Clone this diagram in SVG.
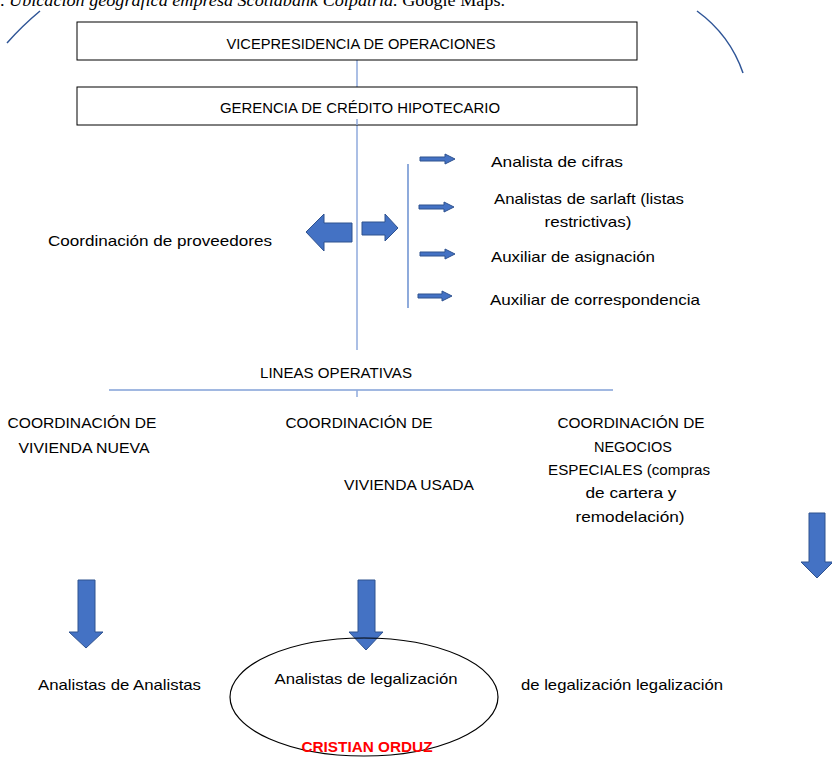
<svg xmlns="http://www.w3.org/2000/svg" width="832" height="757" viewBox="0 0 832 757">
<defs>
<style>
.t{font-family:"Liberation Sans",Arial,sans-serif;font-size:15px;fill:#000}
.c{text-anchor:middle}
.box{fill:#fff;stroke:#000;stroke-width:1}
.arr{fill:#4472C4;stroke:#2F528F;stroke-width:1}
.ln{stroke:#8FAADC;stroke-width:1.5;fill:none}
.ln2{stroke:#4472C4;stroke-width:1.2;fill:none}
.arc{stroke:#2F5597;stroke-width:1.5;fill:none}
</style>
</defs>
<rect width="832" height="757" fill="#fff"/>
<text x="0" y="6" font-family="'Liberation Serif',serif" font-size="17.5" textLength="505" lengthAdjust="spacingAndGlyphs">. <tspan font-style="italic">Ubicación geográfica empresa Scotiabank Colpatria.</tspan> Google Maps.</text>
<path class="arc" d="M40,11 Q22,26 7,43"/>
<path class="arc" d="M697,11 Q730,35 743,73"/>
<g id="connectors">
<line class="ln" x1="357" y1="60" x2="357" y2="87"/>
<line class="ln" x1="357" y1="119" x2="357" y2="350"/>
<line class="ln2" x1="109" y1="390" x2="613" y2="390"/>
<line class="ln" x1="357" y1="390" x2="357" y2="397"/>
<line class="ln2" x1="408" y1="164" x2="408" y2="308"/>
<path class="arr" d="M352,223 L324,223 L324,214 L306,232 L324,251 L324,242 L352,242 Z"/>
<path class="arr" d="M362,222 L385,222 L385,214 L398,228 L385,241 L385,235 L362,235 Z"/>
<path class="arr" d="M420,157 L445,157 L445,154 L455,159 L445,164 L445,161 L420,161 Z"/>
<path class="arr" d="M419,205 L444,205 L444,202 L454,207 L444,212 L444,209 L419,209 Z"/>
<path class="arr" d="M420,252 L445,252 L445,249 L455,254 L445,259 L445,256 L420,256 Z"/>
<path class="arr" d="M418,294 L442,294 L442,291 L452,296 L442,301 L442,298 L418,298 Z"/>
<path class="arr" d="M78,580 L95,580 L95,632 L103,632 L86,648 L69,632 L78,632 Z"/>
<path class="arr" d="M358,580 L375,580 L375,632 L383,632 L366,650 L349,632 L358,632 Z"/>
<path class="arr" d="M809,513 L825,513 L825,562 L833,562 L817,578 L801,562 L809,562 Z"/>
</g>
<g id="vicepresidencia">
<rect class="box" x="77" y="22" width="560" height="38"/>
<text class="t c" x="361" y="49" textLength="269" lengthAdjust="spacingAndGlyphs">VICEPRESIDENCIA DE OPERACIONES</text>
</g>
<g id="gerencia">
<rect class="box" x="77" y="87" width="560" height="38"/>
<text class="t c" x="360" y="113" textLength="280" lengthAdjust="spacingAndGlyphs">GERENCIA DE CRÉDITO HIPOTECARIO</text>
<line class="ln" x1="357" y1="119" x2="357" y2="125"/>
</g>
<g id="analista-cifras"><text class="t" x="491" y="167" textLength="132" lengthAdjust="spacingAndGlyphs">Analista de cifras</text></g>
<g id="analistas-sarlaft">
<text class="t c" x="589" y="204" textLength="190" lengthAdjust="spacingAndGlyphs">Analistas de sarlaft (listas</text>
<text class="t c" x="588" y="227" textLength="87" lengthAdjust="spacingAndGlyphs">restrictivas)</text>
</g>
<g id="auxiliar-asignacion"><text class="t" x="491" y="262" textLength="164" lengthAdjust="spacingAndGlyphs">Auxiliar de asignación</text></g>
<g id="auxiliar-correspondencia"><text class="t" x="490" y="305" textLength="210" lengthAdjust="spacingAndGlyphs">Auxiliar de correspondencia</text></g>
<g id="proveedores"><text class="t" x="48" y="246" textLength="224" lengthAdjust="spacingAndGlyphs">Coordinación de proveedores</text></g>
<g id="lineas"><text class="t" x="260" y="378" textLength="152" lengthAdjust="spacingAndGlyphs">LINEAS OPERATIVAS</text></g>
<g id="vivienda-nueva">
<text class="t c" x="82" y="428" textLength="149" lengthAdjust="spacingAndGlyphs">COORDINACIÓN DE</text>
<text class="t c" x="84" y="453" textLength="131" lengthAdjust="spacingAndGlyphs">VIVIENDA NUEVA</text>
</g>
<g id="vivienda-usada">
<text class="t c" x="359" y="428" textLength="147" lengthAdjust="spacingAndGlyphs">COORDINACIÓN DE</text>
<text class="t c" x="409" y="490" textLength="130" lengthAdjust="spacingAndGlyphs">VIVIENDA USADA</text>
</g>
<g id="negocios-especiales">
<text class="t c" x="631" y="428" textLength="147" lengthAdjust="spacingAndGlyphs">COORDINACIÓN DE</text>
<text class="t c" x="633" y="452" textLength="78" lengthAdjust="spacingAndGlyphs">NEGOCIOS</text>
<text class="t c" x="629" y="475" textLength="162" lengthAdjust="spacingAndGlyphs">ESPECIALES (compras</text>
<text class="t c" x="631" y="498" textLength="91" lengthAdjust="spacingAndGlyphs">de cartera y</text>
<text class="t c" x="630" y="522" textLength="109" lengthAdjust="spacingAndGlyphs">remodelación)</text>
</g>
<g id="analistas-analistas"><text class="t" x="38" y="690" textLength="163" lengthAdjust="spacingAndGlyphs">Analistas de Analistas</text></g>
<g id="legalizacion">
<ellipse cx="364" cy="697" rx="134" ry="59" fill="none" stroke="#000" stroke-width="1.2"/>
<text class="t c" x="366" y="684" textLength="183" lengthAdjust="spacingAndGlyphs">Analistas de legalización</text>
<text class="c" x="367" y="752" font-family="'Liberation Sans',Arial,sans-serif" font-size="15" font-weight="bold" fill="#FF0000" textLength="131" lengthAdjust="spacingAndGlyphs">CRISTIAN ORDUZ</text>
</g>
<g id="legalizacion-derecha"><text class="t" x="521" y="690" textLength="202" lengthAdjust="spacingAndGlyphs">de legalización legalización</text></g>
</svg>
